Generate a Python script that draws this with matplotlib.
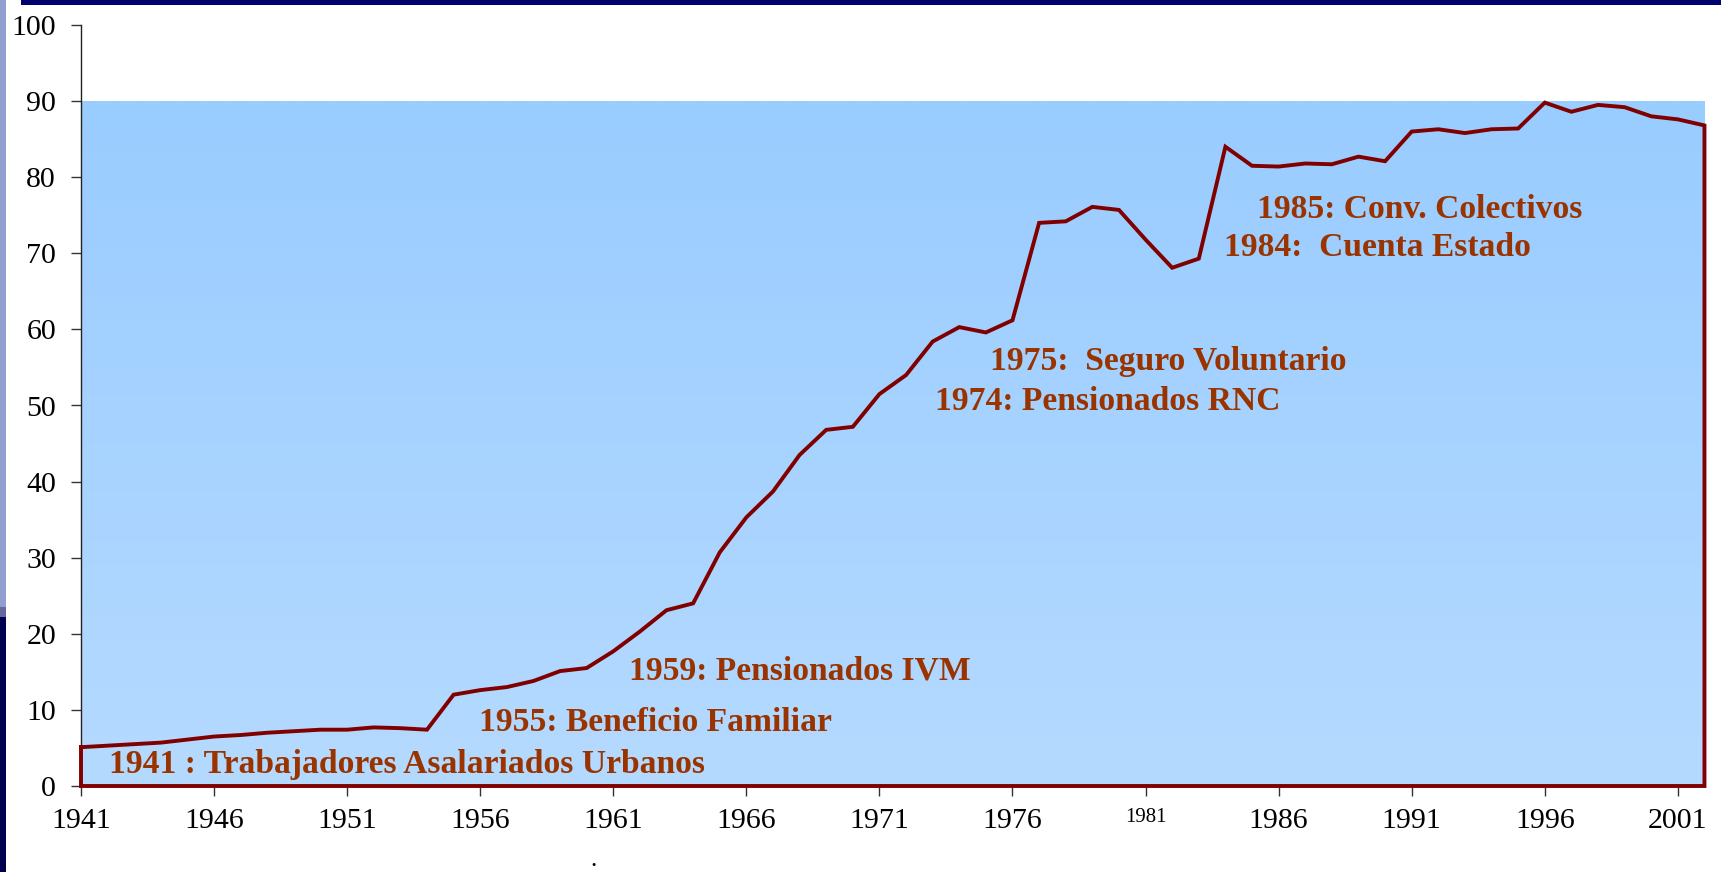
import numpy as np
import matplotlib
matplotlib.use("Agg")
import matplotlib.pyplot as plt
from matplotlib.patches import Rectangle

years = list(range(1941, 2003))
values = [5.1, 5.3, 5.5, 5.7, 6.1, 6.5, 6.7, 7.0, 7.2, 7.4,
          7.4, 7.7, 7.6, 7.4, 12.0, 12.6, 13.0, 13.8, 15.1, 15.5,
          17.7, 20.3, 23.1, 24.0, 30.7, 35.3, 38.7, 43.5, 46.8, 47.2,
          51.5, 54.0, 58.4, 60.3, 59.6, 61.2, 74.0, 74.2, 76.1, 75.7,
          71.8, 68.1, 69.3, 84.0, 81.5, 81.4, 81.8, 81.7, 82.7, 82.1,
          86.0, 86.3, 85.8, 86.3, 86.4, 89.8, 88.6, 89.5, 89.2, 88.0,
          87.6, 86.8]
xticks = list(range(1941, 2002, 5))
yticks = list(range(0, 101, 10))
fill_top = 90

notes = [
    ("1941 : Trabajadores Asalariados Urbanos", 1942.07, 2.8),
    ("1955: Beneficio Familiar", 1955.96, 8.4),
    ("1959: Pensionados IVM", 1961.6, 15.1),
    ("1974: Pensionados RNC", 1973.1, 50.5),
    ("1975:  Seguro Voluntario", 1975.16, 55.8),
    ("1984:  Cuenta Estado", 1983.93, 70.8),
    ("1985: Conv. Colectivos", 1985.17, 75.7),
]

plt.rcParams['font.family'] = ['Liberation Serif', 'DejaVu Serif']

W, H = 1721, 872
fig = plt.figure(figsize=(W / 100, H / 100), dpi=100)
fig.patch.set_facecolor('white')

# decorative frame
fig.add_artist(Rectangle((21 / W, 1 - 5 / H), 1, 5 / H, transform=fig.transFigure,
                         facecolor='#00006e', edgecolor='none'))
fig.add_artist(Rectangle((0, 1 - 607 / H), 6 / W, 607 / H, transform=fig.transFigure,
                         facecolor='#8f9fd0', edgecolor='none'))
fig.add_artist(Rectangle((0, 1 - 617 / H), 6 / W, 10 / H, transform=fig.transFigure,
                         facecolor='#6868a0', edgecolor='none'))
fig.add_artist(Rectangle((0, 0), 6 / W, 1 - 617 / H, transform=fig.transFigure,
                         facecolor='#000050', edgecolor='none'))

x0, x1 = 81 / W, 1705 / W
y0, y1 = 1 - 786 / H, 1 - 25 / H
ax = fig.add_axes([x0, y0, x1 - x0, y1 - y0])
ax.set_facecolor('none')
ax.set_xlim(years[0], years[-1] + 0.02)
ax.set_ylim(0, 100)

# gradient background fill
grad = np.linspace(0, 1, 256).reshape(-1, 1)
top = np.array([153, 204, 255]) / 255
bot = np.array([181, 218, 255]) / 255
img = top + (bot - top) * grad
img = img.reshape(256, 1, 3)
ax.imshow(img, extent=[years[0], years[-1], 0, fill_top], aspect='auto',
          zorder=0, interpolation='bilinear')

xs = years + [years[-1], years[0], years[0]]
ys = values + [0, 0, values[0]]
ax.plot(xs, ys, color='#800000', lw=2.8, solid_joinstyle='miter', zorder=3, clip_on=False)

for txt, x, y in notes:
    ax.text(x, y, txt, color='#993300', fontsize=24.2, fontweight='bold',
            va='center', ha='left', zorder=4)

for s in ['top', 'right']:
    ax.spines[s].set_visible(False)
ax.spines['left'].set_color('#222222')
ax.spines['left'].set_linewidth(1.0)
ax.spines['bottom'].set_visible(False)

ax.set_xticks(xticks)
ax.set_xticklabels([str(v) for v in xticks])
ax.set_yticks(yticks)
ax.tick_params(axis='both', direction='out', length=7, width=1, color='#333333',
               labelsize=21.5, labelcolor='black')
ax.tick_params(axis='y', pad=11)
ax.tick_params(axis='x', pad=9)
for lab in ax.get_xticklabels():
    if lab.get_text() == '1981':
        lab.set_fontsize(15)

fig.text(593 / W, 1 / H, '.', fontsize=18, ha='center', va='bottom', color='black')

fig.savefig('out.png', dpi=100)
